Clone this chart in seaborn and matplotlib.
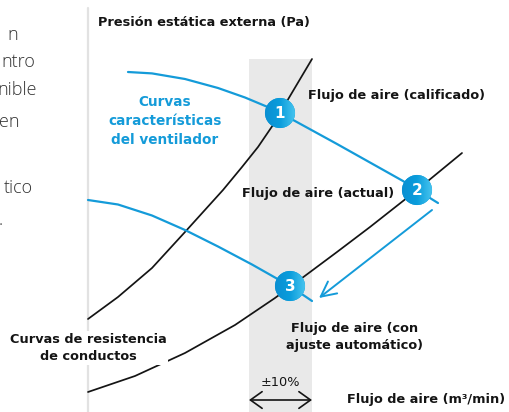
import numpy as np
import pandas as pd
import matplotlib.pyplot as plt
import matplotlib.patches as mpatches
import seaborn as sns

# curve points (flow, pressure in chart units)
res_high_flow = [0, 30, 64, 97, 135, 154, 170, 185, 192, 205, 224]
res_high_pres = [93, 115, 144, 180, 222, 245, 265, 287, 299, 321, 353]

res_low_flow = [0, 47, 97, 147, 187, 202, 249, 282, 329, 374]
res_low_pres = [20, 36, 59, 87, 114, 125, 160, 185, 222, 259]

fan_rated_flow = [40, 64, 97, 130, 157, 179, 192, 207, 249, 282, 315, 329, 350]
fan_rated_pres = [340, 338.6, 333, 324, 314.5, 305.3, 299, 291, 268, 249.5, 231, 222, 209]

fan_adj_flow = [0, 30, 64, 97, 130, 164, 202, 224]
fan_adj_pres = [212, 207.5, 196.5, 182, 165.5, 147.5, 126, 111]

point_labels = ["1", "2", "3"]
point_flow = [192, 329, 202]
point_pres = [299, 222, 126]

band_lo, band_hi, band_top = 161, 224, 353

BLUE = "#149bd9"
INK = "#141414"

sns.set_theme(style="white")
plt.rcParams["font.family"] = ["DejaVu Sans"]

fig = plt.figure(figsize=(5.09, 4.12), dpi=100)
ax = fig.add_axes([0, 0, 1, 1])
ax.set_xlim(-88, 421)
ax.set_ylim(0, 412)
ax.axis("off")

# tolerance band
ax.fill_between([band_lo, band_hi], 0, band_top, color="#e9e9e9", lw=0, zorder=0)
# pressure axis
ax.plot([0, 0], [0, 404], color="#e2e2e2", lw=1.6, zorder=1)

curves = [
    (res_high_flow, res_high_pres, INK, 1.25),
    (res_low_flow, res_low_pres, INK, 1.25),
    (fan_rated_flow, fan_rated_pres, BLUE, 1.6),
    (fan_adj_flow, fan_adj_pres, BLUE, 1.6),
]
for fx, py, col, lw in curves:
    df = pd.DataFrame({"flow": fx, "pres": py})
    sns.lineplot(data=df, x="flow", y="pres", color=col, lw=lw, sort=False,
                 estimator=None, ax=ax, zorder=2, solid_joinstyle="round")

# operating points
pts = pd.DataFrame({"flow": point_flow, "pres": point_pres})
sns.scatterplot(data=pts, x="flow", y="pres", s=470, color="#0a96d6",
                edgecolor="none", ax=ax, zorder=4)
grad = np.linspace(0, 1, 64).reshape(1, -1)
cmap = sns.blend_palette(["#0a8fd2", "#0a9ddc", "#45c3ee"], as_cmap=True)
for lab, fx, py in zip(point_labels, point_flow, point_pres):
    im = ax.imshow(grad, cmap=cmap, extent=[fx - 15, fx + 15, py - 15, py + 15],
                   aspect="auto", zorder=5, interpolation="bilinear")
    im.set_clip_path(mpatches.Circle((fx, py), 15, transform=ax.transData))
    ax.text(fx, py - 0.5, lab, color="white", fontsize=11, fontweight="bold",
            ha="center", va="center", zorder=6)
ax.set_xlim(-88, 421)
ax.set_ylim(0, 412)

# shift arrow 2 -> 3
ax.annotate("", xy=(231, 114), xytext=(344, 202),
            arrowprops=dict(arrowstyle="->,head_length=0.9,head_width=0.45",
                            color=BLUE, lw=1.4, shrinkA=0, shrinkB=0), zorder=3)
# +-10% arrow
ax.annotate("", xy=(224, 12), xytext=(161, 12),
            arrowprops=dict(arrowstyle="<->,head_length=0.7,head_width=0.5",
                            color=INK, lw=1.2, shrinkA=0, shrinkB=0), zorder=3)

fs = 9.3
ax.text(10, 390, "Presión estática externa (Pa)", fontsize=fs, fontweight="bold",
        color=INK, ha="left", va="center")
ax.text(77, 291, "Curvas\ncaracterísticas\ndel ventilador", fontsize=9.8,
        fontweight="bold", color=BLUE, ha="center", va="center", linespacing=1.45)
ax.text(220, 317, "Flujo de aire (calificado)", fontsize=fs, fontweight="bold",
        color=INK, ha="left", va="center")
ax.text(154, 219, "Flujo de aire (actual)", fontsize=fs, fontweight="bold",
        color=INK, ha="left", va="center", zorder=3)
ax.text(267, 75, "Flujo de aire (con\najuste automático)", fontsize=fs,
        fontweight="bold", color=INK, ha="center", va="center", linespacing=1.45)
ax.text(0, 64, "Curvas de resistencia\nde conductos", fontsize=fs,
        fontweight="bold", color=INK, ha="center", va="center", linespacing=1.45,
        bbox=dict(facecolor="white", edgecolor="none", pad=1), zorder=3)
ax.text(192, 30, "±10%", fontsize=fs, color=INK, ha="center", va="center")
ax.text(259, 12, "Flujo de aire (m³/min)", fontsize=fs, fontweight="bold",
        color=INK, ha="left", va="center")

# cropped paragraph at the left edge
frag_x = [18, 35, 37, 20, 33, 3]
frag_y = [35, 62, 90, 122, 188, 220]
frags = ["n", "ntro", "nible", "en", "tico", "."]
for t, px, py in zip(frags, frag_x, frag_y):
    fig.text(px / 509, 1 - py / 412, t, fontsize=13, color="#333333",
             ha="right", va="center", family=["Open Sans", "DejaVu Sans"],
             fontweight="light")

fig.savefig("out.png", dpi=100)
